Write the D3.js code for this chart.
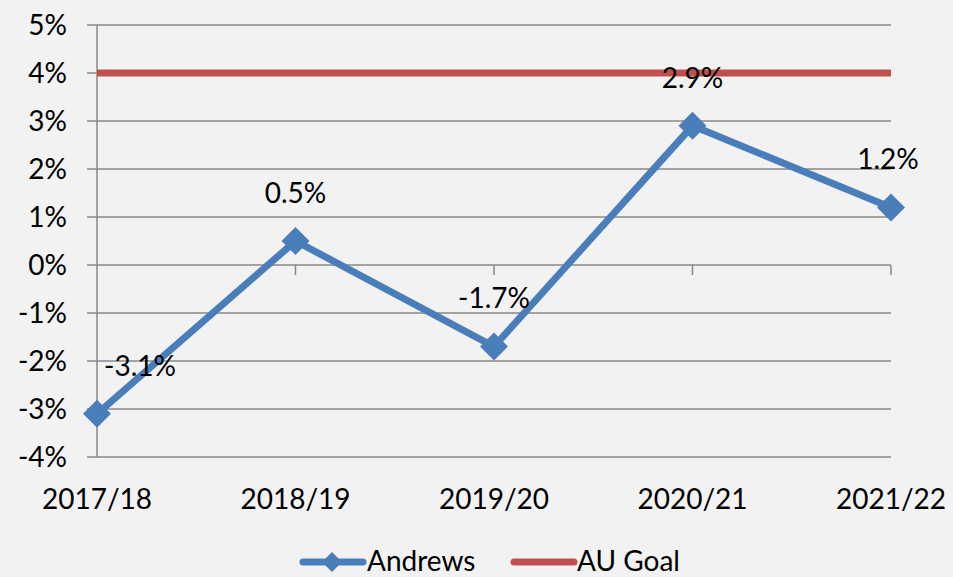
<!DOCTYPE html>
<html><head><meta charset="utf-8">
<script src="https://cdn.jsdelivr.net/npm/d3@7"></script>
<style>
html,body{margin:0;padding:0;background:#f2f2f2;}
svg{display:block;}
text{font-family:Lato,"Open Sans",sans-serif;fill:#000;}
</style></head>
<body>
<svg id="chart" width="953" height="577"></svg>
<script>
const categories = ["2017/18","2018/19","2019/20","2020/21","2021/22"];
const andrews = [-3.1, 0.5, -1.7, 2.9, 1.2];
const auGoal = [4, 4, 4, 4, 4];
const yTicks = [-4,-3,-2,-1,0,1,2,3,4,5];
const seriesNames = ["Andrews","AU Goal"];
const colors = {andrews:"#4a7ebb", goal:"#c0504d"};

const svg = d3.select("#chart");
const W = 953, H = 577;
svg.append("rect").attr("width",W).attr("height",H).attr("fill","#f2f2f2");

const x = d3.scalePoint().domain(categories).range([97, 891]);
const y = d3.scaleLinear().domain([-4,5]).range([457, 25]);

const fs = 28;
// gridlines
const grid = svg.append("g");
grid.selectAll("line").data(yTicks).join("line")
  .attr("x1",87).attr("x2",891)
  .attr("y1",d=>y(d)).attr("y2",d=>y(d))
  .attr("stroke","#898989").attr("stroke-width",1.5);
// y axis line
svg.append("line").attr("x1",97).attr("x2",97).attr("y1",y(5)).attr("y2",y(-4))
  .attr("stroke","#898989").attr("stroke-width",1.5);
// x axis ticks at zero line
svg.append("g").selectAll("line").data(categories.slice(1)).join("line")
  .attr("x1",d=>x(d)).attr("x2",d=>x(d)).attr("y1",y(0)).attr("y2",y(0)+10)
  .attr("stroke","#898989").attr("stroke-width",1.5);
// y labels
svg.append("g").selectAll("text").data(yTicks).join("text")
  .attr("x",67).attr("y",d=>y(d)).attr("dy","0.35em")
  .attr("text-anchor","end").attr("font-size",fs)
  .text(d=>d+"%");
// x labels
svg.append("g").selectAll("text").data(categories).join("text")
  .attr("x",d=>x(d)).attr("y",509)
  .attr("text-anchor","middle").attr("font-size",fs)
  .text(d=>d);

// AU goal line
svg.append("path").datum(auGoal.map((v,i)=>[categories[i],v]))
  .attr("fill","none").attr("stroke",colors.goal).attr("stroke-width",7)
  .attr("d",d3.line().x(d=>x(d[0])).y(d=>y(d[1])));

// Andrews line
const pts = andrews.map((v,i)=>[categories[i],v]);
svg.append("path").datum(pts)
  .attr("fill","none").attr("stroke",colors.andrews).attr("stroke-width",7)
  .attr("stroke-linejoin","miter")
  .attr("d",d3.line().x(d=>x(d[0])).y(d=>y(d[1])));
const dsize = 14;
svg.append("g").selectAll("path").data(pts).join("path")
  .attr("fill",colors.andrews)
  .attr("d",d=>{const cx=x(d[0]), cy=y(d[1]);
    return `M${cx},${cy-dsize}L${cx+dsize},${cy}L${cx},${cy+dsize}L${cx-dsize},${cy}Z`;});
// labels
svg.append("g").selectAll("text").data(pts).join("text")
  .attr("x",(d,i)=>i===0 ? x(d[0])+43 : x(d[0]) - (i===categories.length-1?3:0))
  .attr("y",d=>y(d[1])-48).attr("dy","0.35em")
  .attr("text-anchor","middle").attr("font-size",fs)
  .text(d=>d[1].toFixed(1)+"%");

// legend
const ly = 561;
const leg = svg.append("g");
leg.append("line").attr("x1",303).attr("x2",363).attr("y1",ly+1).attr("y2",ly+1)
  .attr("stroke",colors.andrews).attr("stroke-width",7).attr("stroke-linecap","round");
leg.append("path").attr("fill",colors.andrews)
  .attr("d",`M332,${ly-9}L342,${ly+1}L332,${ly+11}L322,${ly+1}Z`);
leg.append("text").attr("x",367).attr("y",ly).attr("dy","0.35em").attr("font-size",fs).text(seriesNames[0]);
leg.append("line").attr("x1",514).attr("x2",574).attr("y1",ly+1).attr("y2",ly+1)
  .attr("stroke",colors.goal).attr("stroke-width",7).attr("stroke-linecap","round");
leg.append("text").attr("x",577).attr("y",ly).attr("dy","0.35em").attr("font-size",fs).text(seriesNames[1]);
</script>
</body></html>
